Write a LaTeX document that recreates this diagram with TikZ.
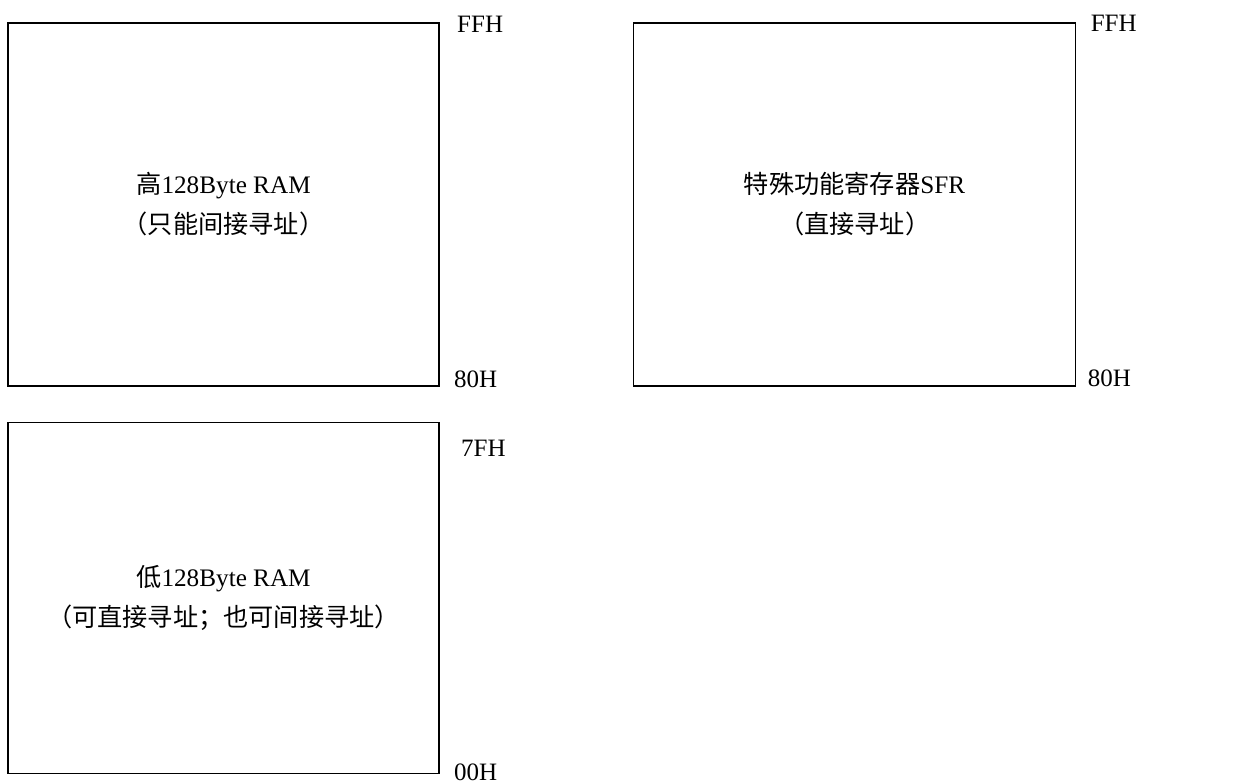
\documentclass[tikz,border=0pt]{standalone}
\usepackage{fontspec}
\setmainfont{Liberation Serif}
\newfontfamily\cjk{Noto Sans CJK SC}
\usetikzlibrary{positioning}

\begin{document}
\begin{tikzpicture}[
    x=0.5pt, y=-0.5pt,
    node distance=17.5pt and 96.5pt,
    memblock/.style={rectangle, draw, line width=0.8pt, minimum width=215.5pt, minimum height=181.5pt, inner sep=0pt, align=center, font=\fontsize{12.6pt}{20pt}\selectfont},
    addr/.style={anchor=west, inner sep=0pt, font=\fontsize{12.5pt}{15pt}\selectfont}
]
    \useasboundingbox (0,0) rectangle (1243,783);

    \node [memblock] (hiram) at (223.5,204.5) {{\cjk 高}128Byte RAM\\{\cjk （只能间接寻址）}};
    \node [memblock, minimum width=221pt, right=of hiram] (sfr) {{\cjk 特殊功能寄存器}SFR\\{\cjk （直接寻址）}};
    \node [memblock, minimum height=175.5pt, below=of hiram] (loram) {{\cjk 低}128Byte RAM\\{\cjk （可直接寻址；也可间接寻址）}};

    % address labels
    \node [addr] (hitop) at ([xshift=8.5pt, yshift=-1pt]hiram.north east) {FFH};
    \node [addr] (hibot) at ([xshift=7pt, yshift=4pt]hiram.south east) {80H};
    \node [addr] (sfrtop) at ([xshift=7pt, yshift=-0.5pt]sfr.north east) {FFH};
    \node [addr] (sfrbot) at ([xshift=5.5pt, yshift=4.5pt]sfr.south east) {80H};
    \node [addr] (lotop) at ([xshift=10.5pt, yshift=-13.5pt]loram.north east) {7FH};
    \node [addr] (lobot) at ([xshift=7pt, yshift=1pt]loram.south east) {00H};
\end{tikzpicture}
\end{document}
